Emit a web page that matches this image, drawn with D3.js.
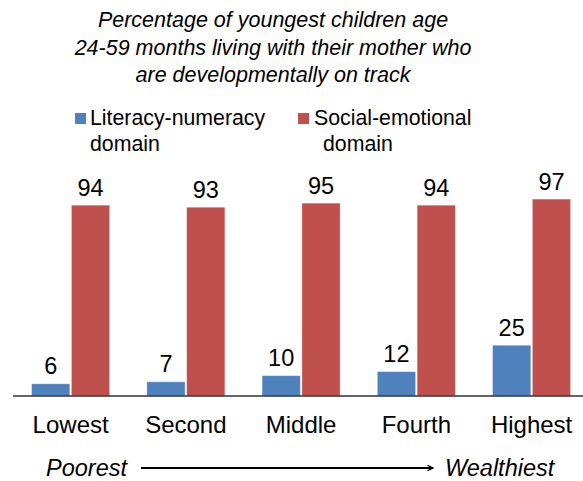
<!DOCTYPE html>
<html><head><meta charset="utf-8">
<script src="https://cdn.jsdelivr.net/npm/d3@7"></script>
<style>body{margin:0;background:#fff}svg{display:block;font-family:"Liberation Sans",Arial,sans-serif}</style>
</head><body>
<script>
const categories = ["Lowest","Second","Middle","Fourth","Highest"];
const seriesNames = ["Literacy-numeracy domain","Social-emotional domain"];
const literacy = [6,7,10,12,25];
const social = [94,93,95,94,97];
const colors = ["#4F81BD","#C0504D"];
const titleLines = ["Percentage of youngest children age","24-59 months living with their mother who","are developmentally on track"];

const W=583,H=481;
const svg=d3.select("body").append("svg").attr("width",W).attr("height",H);
const baseY=396;
const y=d3.scaleLinear().domain([0,100]).range([baseY,193]);
const x0=d3.scaleBand().domain(categories).range([13,589.2]).paddingInner(0.323).paddingOuter(0.1615);
const x1=d3.scaleBand().domain([0,1]).range([0,x0.bandwidth()]).paddingInner(0.04);

// title
svg.append("g").selectAll("text").data(titleLines).join("text")
  .attr("x",273).attr("y",(d,i)=>27+i*27.5).attr("text-anchor","middle")
  .attr("font-size",21.5).attr("font-style","italic").attr("fill","#000").text(d=>d);

// legend
const leg=[{x:75,lines:["Literacy-numeracy","domain"],dx:[15,15]},{x:298,lines:["Social-emotional","domain"],dx:[16,25]}];
leg.forEach((l,i)=>{
  svg.append("rect").attr("x",l.x).attr("y",113).attr("width",11).attr("height",11).attr("fill",colors[i]);
  l.lines.forEach((t,j)=>svg.append("text").attr("x",l.x+l.dx[j]).attr("y",124.5+j*26).attr("font-size",21.3).attr("fill","#000").text(t));
});

const data=categories.map((c,i)=>({c,v:[literacy[i],social[i]]}));
const g=svg.append("g");
const grp=g.selectAll("g").data(data).join("g").attr("transform",d=>`translate(${x0(d.c)},0)`);
grp.selectAll("rect").data(d=>d.v.map((v,k)=>({v,k}))).join("rect")
  .attr("x",d=>x1(d.k)).attr("width",x1.bandwidth())
  .attr("y",d=>y(d.v)).attr("height",d=>baseY-y(d.v))
  .attr("fill",d=>colors[d.k]).attr("stroke","#fff").attr("stroke-opacity",0.4).attr("stroke-width",0.8);
grp.selectAll("text").data(d=>d.v.map((v,k)=>({v,k}))).join("text")
  .attr("x",d=>x1(d.k)+x1.bandwidth()/2).attr("y",d=>y(d.v)-9.5)
  .attr("text-anchor","middle").attr("font-size",23.5).attr("fill","#000").text(d=>d.v);

// axis
const ax=svg.append("g").attr("transform",`translate(0,${baseY})`)
  .call(d3.axisBottom(x0).tickSize(0).tickPadding(20));
ax.select(".domain").attr("stroke","#333").attr("stroke-width",1.3).attr("d",`M13,0H${W}`);
ax.selectAll("text").attr("font-size",24).attr("font-family","Liberation Sans, Arial, sans-serif").attr("fill","#000");

// arrow annotation
svg.append("defs").append("marker").attr("id","ah").attr("viewBox","0 0 10 10").attr("refX",9).attr("refY",5)
  .attr("markerWidth",7).attr("markerHeight",7).attr("markerUnits","userSpaceOnUse").attr("orient","auto")
  .append("path").attr("d","M1,1L9,5L1,9").attr("fill","none").attr("stroke","#000").attr("stroke-width",1.6);
svg.append("line").attr("x1",141).attr("x2",433).attr("y1",468).attr("y2",468).attr("stroke","#000").attr("stroke-width",2).attr("marker-end","url(#ah)");
svg.append("text").attr("x",46).attr("y",476).attr("font-size",23.5).attr("font-style","italic").text("Poorest");
svg.append("text").attr("x",445).attr("y",476).attr("font-size",23.5).attr("font-style","italic").text("Wealthiest");
</script>
</body></html>
